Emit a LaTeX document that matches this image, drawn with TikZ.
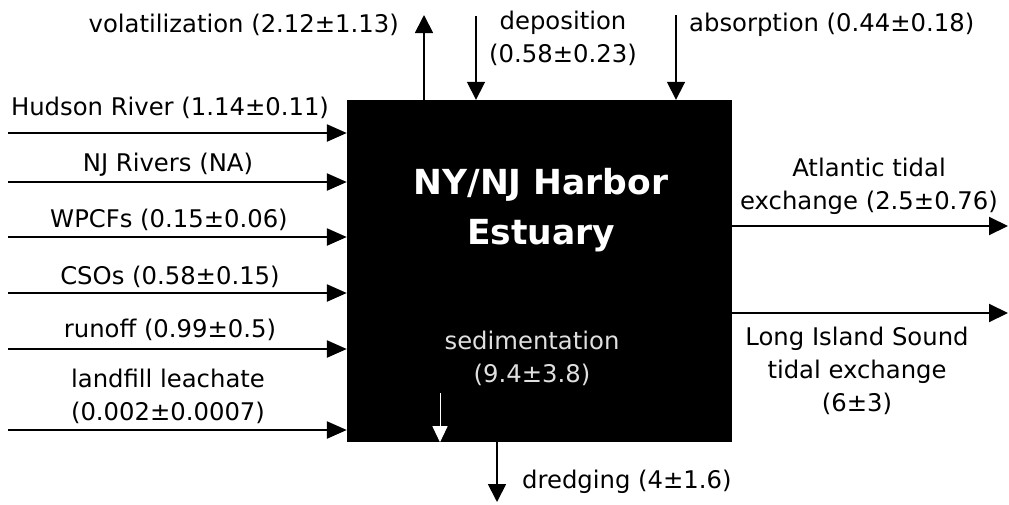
\documentclass[tikz,border=0pt]{standalone}
\usepackage{fontspec}
\setmainfont{DejaVu Sans}
\usetikzlibrary{arrows.meta}
\begin{document}
\begin{tikzpicture}[x=1pt,y=-1pt,
  lbl/.style={font=\fontsize{24.3}{33}\selectfont, inner sep=0pt, align=center},
  flowin/.style={line width=2.4pt, -{Triangle[length=20pt,width=17pt]}},
  flowv/.style={line width=1.8pt, -{Triangle[length=18pt,width=18pt]}},
  flowout/.style={line width=2pt, -{Triangle[length=19pt,width=18pt]}},
  sedarrow/.style={white, line width=1pt, -{Triangle[length=16pt,width=15pt]}}]
\useasboundingbox (0,0) rectangle (1009,504);

% the estuary box
\node[fill=black, minimum width=385pt, minimum height=342pt, inner sep=0pt] (est) at (539.5,271) {};
\node[font=\bfseries\fontsize{34.5}{50}\selectfont, text=white, align=center, inner sep=0pt] (title) at (541,210) {NY/NJ Harbor\\Estuary};
\node[lbl, text=black!12] (sed) at (532,358) {sedimentation\\(9.4±3.8)};
\coordinate (sedtop) at (440,393);
\draw[sedarrow] (sedtop) -- (sedtop |- est.south);

% inputs on the left
\node[lbl] (hud) at (170,108) {Hudson River (1.14±0.11)};
\node[lbl] (njr) at (168,165) {NJ Rivers (NA)};
\node[lbl] (wpc) at (169,220) {WPCFs (0.15±0.06)};
\node[lbl] (cso) at (170,277) {CSOs (0.58±0.15)};
\node[lbl] (run) at (170,330) {runoff (0.99±0.5)};
\node[lbl] (lfl) at (168,396) {landfill leachate\\(0.002±0.0007)};
\coordinate (hud0) at (8,133);
\coordinate (njr0) at (8,182);
\coordinate (wpc0) at (8,237);
\coordinate (cso0) at (8,293);
\coordinate (run0) at (8,349);
\coordinate (lfl0) at (8,430);
\foreach \s in {hud0,njr0,wpc0,cso0,run0,lfl0}
  \draw[flowin] (\s) -- (\s -| est.west);

% exchanges across the top
\node[lbl, anchor=east] (vol) at (399,25) {volatilization (2.12±1.13)};
\node[lbl] (dep) at (563,38) {deposition\\(0.58±0.23)};
\node[lbl, anchor=west] (abs) at (689,25) {absorption (0.44±0.18)};
\coordinate (voltip) at (424,15);
\coordinate (deptop) at (476,16);
\coordinate (abstop) at (676,15);
\draw[flowv] (voltip |- est.north) -- (voltip);
\draw[flowv] (deptop) -- (deptop |- est.north);
\draw[flowv] (abstop) -- (abstop |- est.north);

% outputs on the right
\node[lbl] (atl) at (869,186) {Atlantic tidal\\exchange (2.5±0.76)};
\node[lbl] (lis) at (857,371) {Long Island Sound\\tidal exchange\\(6±3)};
\coordinate (atlend) at (1008,226);
\coordinate (lisend) at (1008,313);
\draw[flowout] (atlend -| est.east) -- (atlend);
\draw[flowout] (lisend -| est.east) -- (lisend);

% dredging at the bottom
\node[lbl, anchor=west] (dre) at (522,482) {dredging (4±1.6)};
\coordinate (dreend) at (497,502);
\draw[flowv] (dreend |- est.south) -- (dreend);
\end{tikzpicture}
\end{document}
